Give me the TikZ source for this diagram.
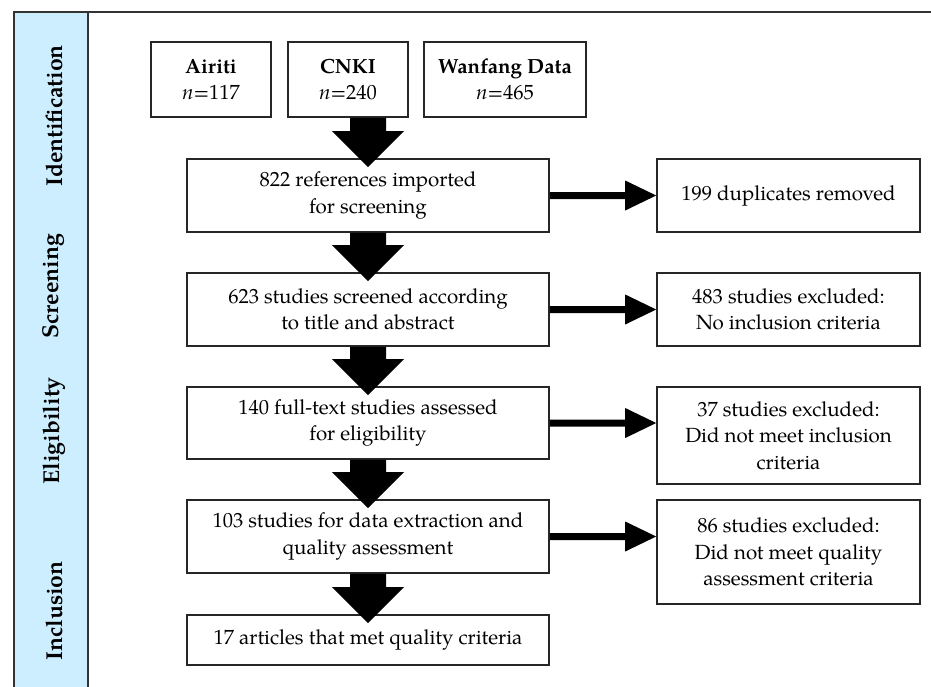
\documentclass[tikz,border=0pt]{standalone}
\usepackage{fontspec}
\setmainfont{TeX Gyre Pagella}
\usetikzlibrary{calc}
\definecolor{phaseblue}{RGB}{204,238,255}
\tikzset{
  box/.style={draw=black!85, fill=white, line width=1.6pt, align=center, inner sep=0pt,
    font=\fontsize{20.5}{26.5}\selectfont},
  phase/.style={rotate=90, font=\fontsize{23}{27}\selectfont\bfseries},
  fatarrow/.style={fill=black},
  frameline/.style={draw=black!80, line width=1.8pt}
}
\begin{document}
\begin{tikzpicture}[x=1pt,y=-1pt]
\useasboundingbox (0,0) rectangle (931,686);
% frame
\draw[frameline] (14,12) -- (931,12);
\filldraw[frameline, fill=phaseblue] (14,12) rectangle (88,690);
\node[phase] (pid) at (54,116) {Identification};
\node[phase] (psc) at (54,286) {Screening};
\node[phase] (pel) at (54,431) {Eligibility};
\node[phase] (pin) at (54,611) {Inclusion};
% source boxes
\node[box, minimum width=120pt, minimum height=75pt] (airiti) at (211,79.5) {\textbf{Airiti}\\\textit{n}=117};
\node[box, minimum width=120pt, minimum height=75pt] (cnki) at (348,79.5) {\textbf{CNKI}\\\textit{n}=240};
\node[box, minimum width=162pt, minimum height=75pt] (wanfang) at (505,79.5) {\textbf{Wanfang Data}\\\textit{n}=465};
% main column
\node[box, minimum width=362pt, minimum height=73pt] (b1) at (368,195.5) {822 references imported\\for screening};
\node[box, minimum width=362pt, minimum height=73pt] (b2) at (368,309.5) {623 studies screened according\\to title and abstract};
\node[box, minimum width=362pt, minimum height=72pt] (b3) at (368,423) {140 full-text studies assessed\\for eligibility};
\node[box, minimum width=362pt, minimum height=73pt] (b4) at (368,536.5) {103 studies for data extraction and\\quality assessment};
\node[box, minimum width=362pt, minimum height=50pt] (b5) at (368,640) {17 articles that met quality criteria};
% right column
\node[box, minimum width=263pt, minimum height=73pt] (r1) at (788.5,195.5) {199 duplicates removed};
\node[box, minimum width=263pt, minimum height=73pt] (r2) at (788.5,309.5) {483 studies excluded:\\No inclusion criteria};
\node[box, minimum width=263pt, minimum height=97pt] (r3) at (788.5,435.5) {37 studies excluded:\\Did not meet inclusion\\criteria};
\node[box, minimum width=263pt, minimum height=104pt] (r4) at (788.5,552) {86 studies excluded:\\Did not meet quality\\assessment criteria};
% down arrows
\newcommand{\fatdown}[2]{%
  \fill[fatarrow] ($(#1)+(-18,0)$) -- ($(#1)+(18,0)$) -- ($(#2)+(18,-27)$) -- ($(#2)+(36,-27)$)
    -- ($(#2)+(0,9)$) -- ($(#2)+(-36,-27)$) -- ($(#2)+(-18,-27)$) -- cycle;}
\coordinate (s0) at (b1.north |- cnki.south);
\fatdown{s0}{b1.north}
\fatdown{b1.south}{b2.north}
\fatdown{b2.south}{b3.north}
\fatdown{b3.south}{b4.north}
\fatdown{b4.south}{b5.north}
% side arrows
\newcommand{\fatright}[2]{%
  \fill[fatarrow] ($(#1.east)+(0,-3.5)$) -- ($(#1.east -| #2.west)+(-31,-3.5)$) -- ($(#1.east -| #2.west)+(-31,-15)$)
    -- (#1.east -| #2.west) -- ($(#1.east -| #2.west)+(-31,15)$) -- ($(#1.east -| #2.west)+(-31,3.5)$)
    -- ($(#1.east)+(0,3.5)$) -- cycle;}
\fatright{b1}{r1}
\fatright{b2}{r2}
\fatright{b3}{r3}
\fatright{b4}{r4}
\end{tikzpicture}
\end{document}
